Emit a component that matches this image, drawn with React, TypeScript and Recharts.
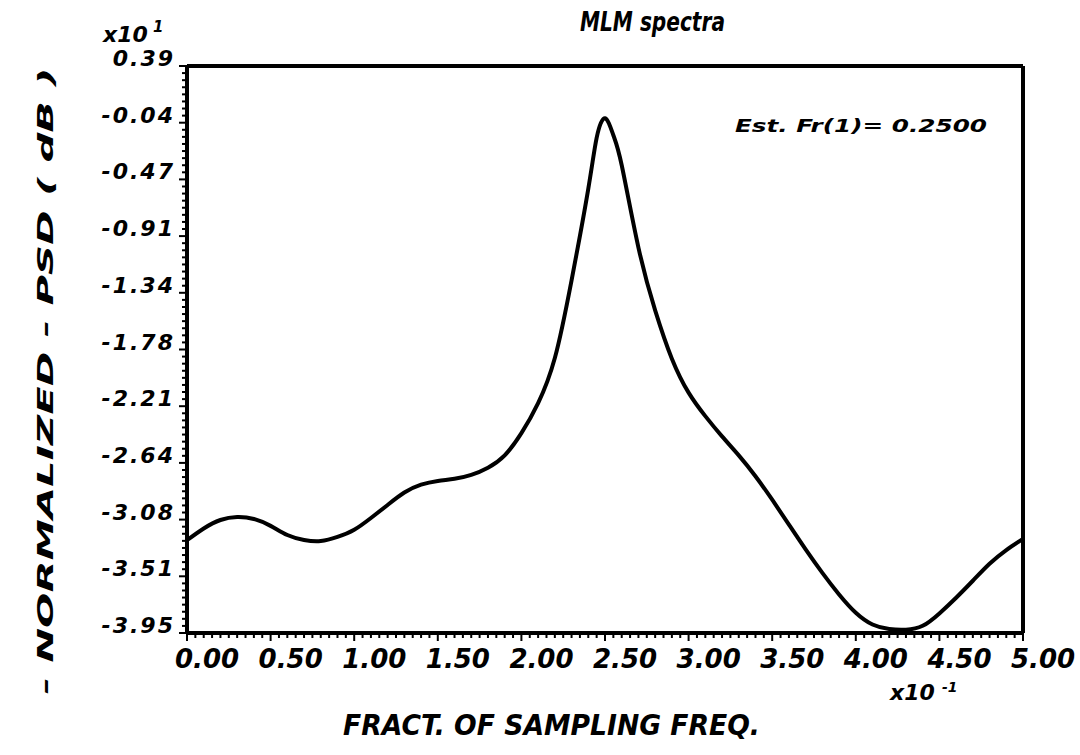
import React from 'react';
import { LineChart, Line, XAxis, YAxis, ReferenceLine } from 'recharts';

// Fraction of sampling frequency (x10^-1)
const freq = [
  0.0, 0.1, 0.2, 0.3, 0.4, 0.5, 0.6, 0.7, 0.8, 0.9,
  1.0, 1.1, 1.2, 1.3, 1.4, 1.5, 1.6, 1.7, 1.8, 1.9,
  2.0, 2.1, 2.2, 2.3, 2.4, 2.45, 2.5, 2.55, 2.6, 2.7, 2.8, 2.9,
  3.0, 3.1, 3.2, 3.3, 3.4, 3.5, 3.6, 3.7, 3.8, 3.9,
  4.0, 4.1, 4.2, 4.3, 4.4, 4.5, 4.6, 4.7, 4.8, 4.9, 5.0,
];

// Normalized PSD (dB, x10^1)
const psd = [
  -3.24, -3.15, -3.085, -3.062, -3.077, -3.13, -3.2, -3.238, -3.246, -3.215,
  -3.16, -3.07, -2.97, -2.875, -2.815, -2.786, -2.77, -2.74, -2.685, -2.59,
  -2.42, -2.19, -1.845, -1.25, -0.55, -0.16, -0.01, -0.14, -0.37, -1.0, -1.48, -1.85,
  -2.11, -2.29, -2.445, -2.59, -2.75, -2.93, -3.12, -3.31, -3.49, -3.655,
  -3.795, -3.885, -3.92, -3.925, -3.895, -3.8, -3.68, -3.55, -3.42, -3.315, -3.23,
];

const xTickLabels = ['0.00', '0.50', '1.00', '1.50', '2.00', '2.50', '3.00', '3.50', '4.00', '4.50', '5.00'];
const yTickLabels = ['0.39', '-0.04', '-0.47', '-0.91', '-1.34', '-1.78', '-2.21', '-2.64', '-3.08', '-3.51', '-3.95'];

const X_MIN = 0;
const X_MAX = 5;
const Y_MIN = -3.95;
const Y_MAX = 0.39;
const X_MINOR_PER_MAJOR = 10;
const Y_MINOR_PER_MAJOR = 8;

const xMajorCount = xTickLabels.length - 1;
const yMajorCount = yTickLabels.length - 1;
const xAllTicks = Array.from({ length: xMajorCount * X_MINOR_PER_MAJOR + 1 }, (_, k) =>
  Number((X_MIN + (k * (X_MAX - X_MIN)) / (xMajorCount * X_MINOR_PER_MAJOR)).toFixed(6))
);
const yAllTicks = Array.from({ length: yMajorCount * Y_MINOR_PER_MAJOR + 1 }, (_, k) =>
  Number((Y_MIN + (k * (Y_MAX - Y_MIN)) / (yMajorCount * Y_MINOR_PER_MAJOR)).toFixed(6))
);

const data = freq.map((f, i) => ({ f, v: psd[i] }));

const FONT = '"DejaVu Sans", sans-serif';

const XTick = (props: any) => {
  const { x, y, index } = props;
  const major = index % X_MINOR_PER_MAJOR === 0;
  const label = major ? xTickLabels[index / X_MINOR_PER_MAJOR] : null;
  return (
    <g>
      <line x1={x} y1={y} x2={x} y2={y + (major ? 8 : 5)} stroke="#000" strokeWidth={2} />
      {label && (
        <text
          x={x - 12}
          y={y + 35}
          textAnchor="start"
          fontFamily={FONT}
          fontWeight="bold"
          fontStyle="italic"
          fontSize={26}
          fill="#000"
        >
          {label}
        </text>
      )}
    </g>
  );
};

const YTick = (props: any) => {
  const { x, y, index } = props;
  const major = index % Y_MINOR_PER_MAJOR === 0;
  const label = major ? yTickLabels[yMajorCount - index / Y_MINOR_PER_MAJOR] : null;
  return (
    <g>
      <line x1={x - (major ? 8 : 5)} y1={y} x2={x} y2={y} stroke="#000" strokeWidth={2} />
      {label && (
        <text
          x={x - 12}
          y={y}
          textAnchor="end"
          fontFamily={FONT}
          fontWeight="bold"
          fontStyle="italic"
          fontSize={22}
          letterSpacing={2}
          fill="#000"
        >
          {label}
        </text>
      )}
    </g>
  );
};

export default function App() {
  const textStyle = {
    fontFamily: FONT,
    fontWeight: 'bold' as const,
    fontStyle: 'italic' as const,
    fill: '#000',
  };
  return (
    <div style={{ position: 'absolute', left: 0, top: 0, width: 1080, height: 755, background: '#fff' }}>
      <LineChart
        width={1080}
        height={755}
        data={data}
        margin={{ top: 66, right: 57, left: 107, bottom: 82 }}
      >
        <XAxis
          dataKey="f"
          type="number"
          domain={[X_MIN, X_MAX]}
          ticks={xAllTicks}
          interval={0}
          height={40}
          tickSize={0}
          tickMargin={0}
          tickLine={false}
          axisLine={{ stroke: '#000', strokeWidth: 4 }}
          tick={(p: any) => <XTick {...p} />}
          allowDataOverflow
        />
        <YAxis
          type="number"
          domain={[Y_MIN, Y_MAX]}
          ticks={yAllTicks}
          interval={0}
          width={80}
          tickSize={0}
          tickMargin={0}
          tickLine={false}
          axisLine={{ stroke: '#000', strokeWidth: 4 }}
          tick={(p: any) => <YTick {...p} />}
          allowDataOverflow
        />
        <ReferenceLine y={Y_MAX} stroke="#000" strokeWidth={4} ifOverflow="visible" />
        <ReferenceLine x={X_MAX} stroke="#000" strokeWidth={4} ifOverflow="visible" />
        <Line
          type="natural"
          dataKey="v"
          stroke="#000"
          strokeWidth={4}
          dot={false}
          isAnimationActive={false}
        />
      </LineChart>
      <svg
        width={1080}
        height={755}
        style={{ position: 'absolute', left: 0, top: 0, pointerEvents: 'none' }}
      >
        <text x={580} y={31} fontSize={26} textLength={145} lengthAdjust="spacingAndGlyphs" {...textStyle}>
          MLM spectra
        </text>
        <text x={735} y={132} fontSize={18} textLength={252} lengthAdjust="spacingAndGlyphs" {...textStyle}>
          Est. Fr(1)=  0.2500
        </text>
        <text x={103} y={42} fontSize={22} {...textStyle}>
          x10
        </text>
        <text x={153} y={32} fontSize={15} {...textStyle}>
          1
        </text>
        <text x={890} y={700} fontSize={22} {...textStyle}>
          x10
        </text>
        <text x={942} y={692} fontSize={14} {...textStyle}>
          -1
        </text>
        <text x={343} y={735} fontSize={28} textLength={417} lengthAdjust="spacingAndGlyphs" {...textStyle}>
          FRACT. OF SAMPLING FREQ.
        </text>
        <text
          x={0}
          y={0}
          transform="translate(53,381) rotate(-90)"
          textAnchor="middle"
          fontSize={22}
          textLength={627}
          lengthAdjust="spacingAndGlyphs"
          {...textStyle}
        >
          - NORMALIZED - PSD ( dB )
        </text>
      </svg>
    </div>
  );
}
